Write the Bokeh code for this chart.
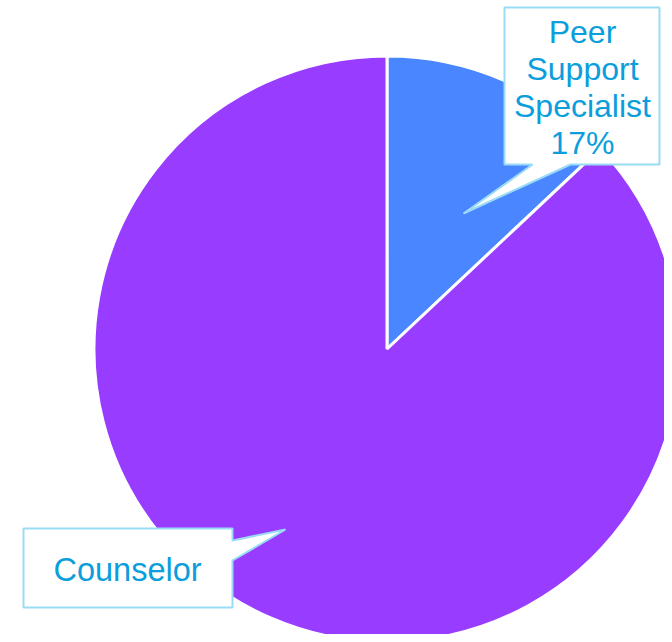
import numpy as np
from bokeh.plotting import figure
from bokeh.models import Range1d, ColumnDataSource
from bokeh.core.properties import value
from bokeh.embed import file_html
from bokeh.resources import INLINE

# ---- data ----
categories = ["Peer Support Specialist", "Counselor"]
shares = [13, 87]
colors = ["#4A86FF", "#983CFF"]
peer_label = "Peer\nSupport\nSpecialist\n17%"
counselor_label = "Counselor"

W, H = 664, 634

def px(x):  # reference x -> data x
    return x

def py(y):  # reference y -> data y
    return H - y

p = figure(width=W, height=H, output_backend="svg", toolbar_location=None,
           x_range=Range1d(0, W), y_range=Range1d(0, H), min_border=0)
p.axis.visible = False
p.grid.visible = False
p.outline_line_color = None
p.background_fill_color = "white"

cx, cy, r = px(386.5), py(348.5), 293
frac = np.array(shares, dtype=float) / sum(shares)
cum = np.concatenate([[0], np.cumsum(frac)])
start = np.pi / 2 - cum[1:] * 2 * np.pi
end = np.pi / 2 - cum[:-1] * 2 * np.pi
src = ColumnDataSource(dict(start=start, end=end, color=colors, cat=categories))
p.wedge(x=cx, y=cy, radius=r, start_angle="start", end_angle="end",
        fill_color="color", line_color="white", line_width=3, source=src)

box_line = "#9ADBF5"
txt_col = "#0A9EDC"

# Peer callout
pxs = [504, 659, 659, 570, 463, 532, 504]
pys = [7, 7, 164, 164, 213, 164, 164]
p.patch([px(v) for v in pxs], [py(v) for v in pys], fill_color="white",
        line_color=box_line, line_width=2)
p.text(x=[px(582)], y=[py(87)], text=[peer_label], text_align="center",
       text_baseline="middle", text_font=value("Liberation Sans"),
       text_font_size="32px", text_color=txt_col, text_line_height=1.02)

# Counselor callout
cxs = [23, 232, 232, 285, 232, 232, 23]
cys = [528, 528, 540, 529, 560, 607, 607]
p.patch([px(v) for v in cxs], [py(v) for v in cys], fill_color="white",
        line_color=box_line, line_width=2)
p.text(x=[px(127)], y=[py(569)], text=[counselor_label], text_align="center",
       text_baseline="middle", text_font=value("Liberation Sans"),
       text_font_size="32.5px", text_color=txt_col)

open("out.html", "w").write(file_html(p, INLINE))
